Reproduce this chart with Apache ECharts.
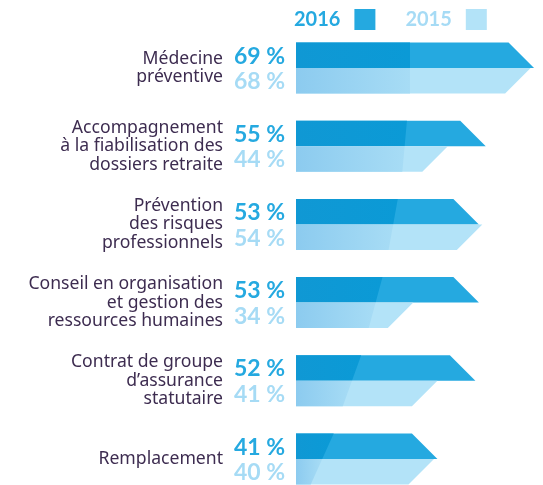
<!DOCTYPE html>
<html><head><meta charset="utf-8">
<script src="https://cdn.jsdelivr.net/npm/echarts@6/dist/echarts.min.js"></script>
<style>html,body{margin:0;padding:0;background:#fff}#c{width:543px;height:485px}</style>
</head><body><div id="c"></div>
<script>
const categories = [
  'Médecine\npréventive',
  'Accompagnement\nà la fiabilisation des\ndossiers retraite',
  'Prévention\ndes risques\nprofessionnels',
  'Conseil en organisation\net gestion des\nressources humaines',
  'Contrat de groupe\nd’assurance\nstatutaire',
  'Remplacement'
];
const values2016 = [69, 55, 53, 53, 52, 41];
const values2015 = [68, 44, 54, 34, 41, 40];
const seriesNames = ['2016', '2015'];

const C16 = '#25a9e0', C16D = '#0b9ad6', C15 = '#b3e3f8', C15D = '#8ccbef', C15D2 = '#a7dcf5';
const TEXT = '#3d2c50';
const BAR_H = 25.5;
const FONT = 'Lato, "Noto Sans", sans-serif';
const LABEL_FONT = '"Noto Sans", sans-serif';

function makeRender(isTop) {
  return function (params, api) {
    const idx = api.value(1);
    const val = api.value(0);
    const p0 = api.coord([0, idx]);
    const p1 = api.coord([val, idx]);
    const x0 = p0[0], mid = p0[1], tip = p1[0];
    const h = BAR_H;
    // decorative light split (slanted reflection), grows with row index
    const i = idx;
    const sTop = x0 + 114 - 3.05 * i * i;
    const slantPerPx = (4.6 * i) / (2 * h);
    const sMid = sTop - slantPerPx * h;
    const sBot = sTop - slantPerPx * 2 * h;
    const children = [];
    if (isTop) {
      const top = mid - h;
      children.push({ type: 'polygon', shape: { points: [[x0, top], [tip - h, top], [tip, mid], [x0, mid]] }, style: { fill: C16 } });
      children.push({ type: 'polygon', shape: { points: [[x0, top], [sTop, top], [sMid, mid], [x0, mid]] },
        style: { fill: new echarts.graphic.LinearGradient(0, 0, 1, 0, [{ offset: 0, color: '#1098d4' }, { offset: 1, color: C16D }]) } });
      children.push({ type: 'text', x: x0 - 11, y: mid - h / 2 + 1,
        style: { text: val + ' %', fill: C16, font: 'bold 23px ' + FONT, align: 'right', verticalAlign: 'middle' } });
    } else {
      const bot = mid + h;
      children.push({ type: 'polygon', shape: { points: [[x0, mid], [tip, mid], [tip - h, bot], [x0, bot]] }, style: { fill: C15 } });
      children.push({ type: 'polygon', shape: { points: [[x0, mid], [sMid, mid], [sBot, bot], [x0, bot]] },
        style: { fill: new echarts.graphic.LinearGradient(0, 0, 1, 0, [{ offset: 0, color: C15D }, { offset: 1, color: C15D2 }]) } });
      children.push({ type: 'text', x: x0 - 11, y: mid + h / 2 + 1,
        style: { text: val + ' %', fill: '#a6dbf5', font: 'bold 23px ' + FONT, align: 'right', verticalAlign: 'middle' } });
    }
    return { type: 'group', children: children };
  };
}

const chart = echarts.init(document.getElementById('c'), null, { renderer: 'canvas' });
chart.setOption({
  animation: false,
  legend: {
    top: 4, left: 289, align: 'right', itemWidth: 21, itemHeight: 21, itemGap: 30, icon: 'rect',
    data: [
      { name: seriesNames[0], textStyle: { color: C16 } },
      { name: seriesNames[1], textStyle: { color: '#a6dbf5' } }
    ],
    textStyle: { fontFamily: FONT, fontWeight: 'bold', fontSize: 20, padding: [0, 9, 0, 0] },
    selectedMode: false
  },
  grid: { left: 296, top: 68, width: 241.5, height: 391, containLabel: false },
  xAxis: { type: 'value', min: 0, max: 70, show: false },
  yAxis: {
    type: 'category', data: categories, inverse: true, boundaryGap: false,
    axisLine: { show: false }, axisTick: { show: false }, splitLine: { show: false },
    axisLabel: { color: TEXT, fontSize: 17.6, lineHeight: 18.5, fontFamily: LABEL_FONT, margin: 73, align: 'right' }
  },
  series: [
    { name: seriesNames[0], type: 'custom', itemStyle: { color: C16 }, renderItem: makeRender(true),
      encode: { x: 0, y: 1 }, data: values2016.map((v, i) => [v, i]) },
    { name: seriesNames[1], type: 'custom', itemStyle: { color: C15 }, renderItem: makeRender(false),
      encode: { x: 0, y: 1 }, data: values2015.map((v, i) => [v, i]) }
  ]
});
</script></body></html>
